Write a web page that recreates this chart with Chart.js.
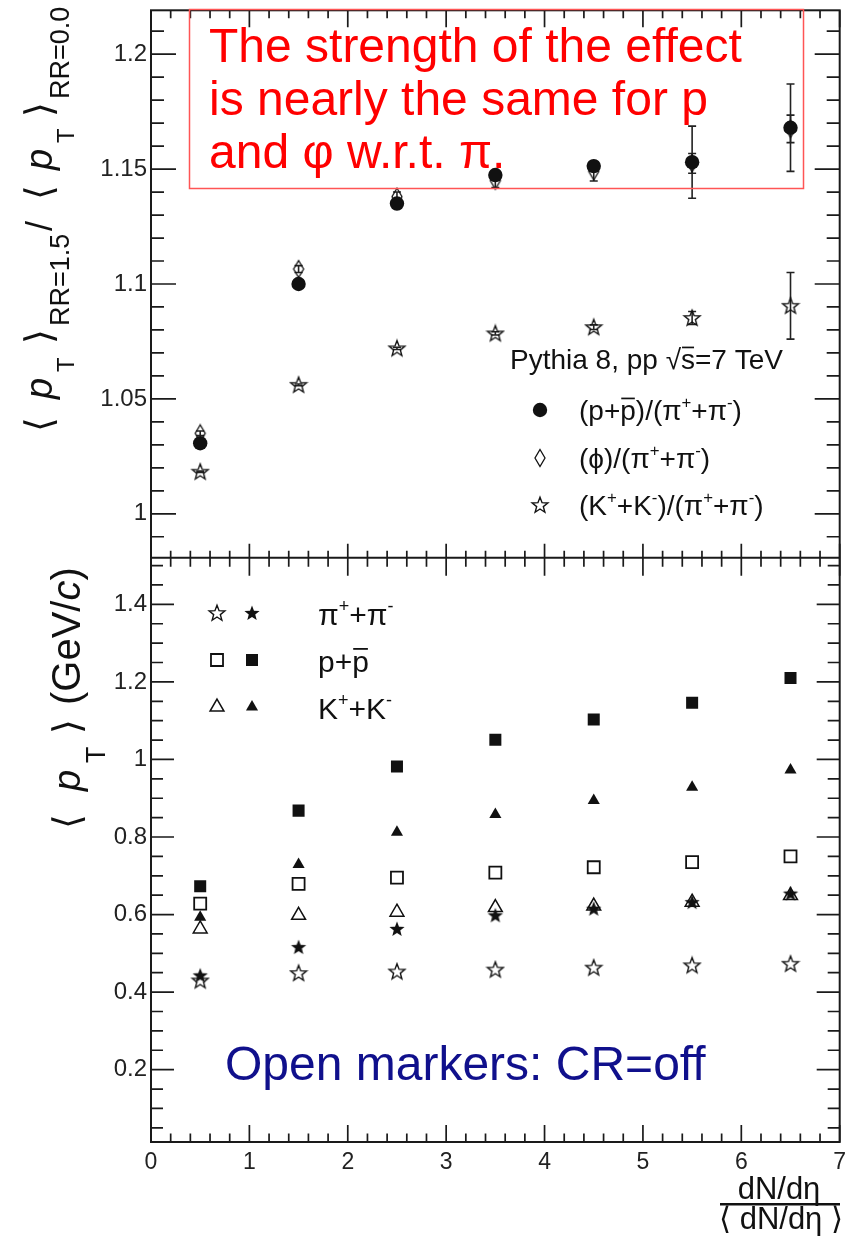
<!DOCTYPE html>
<html>
<head>
<meta charset="utf-8">
<script src="https://cdn.jsdelivr.net/npm/chart.js@4.4.1/dist/chart.umd.min.js"></script>
<style>
  html, body { margin: 0; padding: 0; background: #fff; }
</style>
</head>
<body>
<canvas id="grafico" width="850" height="1236"></canvas>
<script>
const FONT = '"Liberation Sans", Arial, "DejaVu Sans", sans-serif';

// bins in (dN/deta) / <dN/deta>
const bins = [0.5, 1.5, 2.5, 3.5, 4.5, 5.5, 6.5];

// top panel: <pT>(RR=1.5) / <pT>(RR=0.0)
const ratioProton    = [1.0307, 1.1000, 1.1350, 1.1474, 1.1513, 1.1530, 1.1680];
const ratioProtonErr = [0.0008, 0.0010, 0.0012, 0.0015, 0.0020, 0.0157, 0.0190];
const ratioPhi       = [1.0350, 1.1065, 1.1380, 1.1450, 1.1490, 1.1525, 1.1675];
const ratioPhiErr    = [0.0010, 0.0015, 0.0020, 0.0030, 0.0042, 0.0043, 0.0060];
const ratioKaon      = [1.0183, 1.0561, 1.0720, 1.0785, 1.0812, 1.0852, 1.0905];
const ratioKaonErr   = [0.0003, 0.0004, 0.0005, 0.0007, 0.0010, 0.0028, 0.0145];

// bottom panel: <pT> (GeV/c), CR on = filled, CR off = open
const pionOn    = [0.443, 0.516, 0.563, 0.598, 0.615, 0.632, 0.654];
const pionOff   = [0.430, 0.449, 0.453, 0.458, 0.463, 0.469, 0.473];
const protonOn  = [0.673, 0.868, 0.982, 1.051, 1.103, 1.146, 1.210];
const protonOnErr = [0, 0, 0, 0, 0, 0, 0.007];
const protonOff = [0.628, 0.679, 0.695, 0.708, 0.722, 0.735, 0.750];
const kaonOn    = [0.593, 0.729, 0.812, 0.858, 0.894, 0.928, 0.973];
const kaonOff   = [0.563, 0.598, 0.606, 0.618, 0.622, 0.632, 0.649];

// axis ranges
const xRange = [0, 7];
const ratioRange = [0.9809, 1.2191];
const meanPtRange = [0.0134, 1.5204];

const puntos = arr => bins.map((x, i) => ({ x: x, y: arr[i] }));

// ROOT-like markers
function markerCanvas(w, h, paint) {
    const c = document.createElement('canvas');
    c.width = w; c.height = h;
    paint(c.getContext('2d'), w / 2, h / 2);
    return c;
}
function starPath(g, cx, cy, ro, ri) {
    g.beginPath();
    for (let k = 0; k < 10; k++) {
        const r = k % 2 ? ri : ro;
        const a = -Math.PI / 2 + k * Math.PI / 5;
        g.lineTo(cx + r * Math.cos(a), cy + r * Math.sin(a));
    }
    g.closePath();
}
const openStar = markerCanvas(20, 20, (g, cx, cy) => {
    starPath(g, cx, cy + 0.5, 8.3, 3.5);
    g.lineWidth = 1.4; g.strokeStyle = '#111'; g.stroke();
});
const fullStar = markerCanvas(20, 20, (g, cx, cy) => {
    starPath(g, cx, cy + 0.5, 8, 3.4);
    g.fillStyle = '#111'; g.fill();
});
const openDiamond = markerCanvas(14, 20, (g, cx, cy) => {
    g.beginPath();
    g.moveTo(cx, 1.5); g.lineTo(cx + 5, cy); g.lineTo(cx, 18.5); g.lineTo(cx - 5, cy);
    g.closePath();
    g.lineWidth = 1.3; g.strokeStyle = '#111'; g.stroke();
});

const datasets = [
    { label: 'p ratio', yAxisID: 'yTop', data: puntos(ratioProton), errors: ratioProtonErr,
      pointStyle: 'circle', pointRadius: 7.2, backgroundColor: '#111', borderColor: '#111', borderWidth: 0 },
    { label: 'phi ratio', yAxisID: 'yTop', data: puntos(ratioPhi), errors: ratioPhiErr,
      pointStyle: openDiamond, pointRadius: 8, backgroundColor: '#111', borderColor: '#111', borderWidth: 0 },
    { label: 'K ratio', yAxisID: 'yTop', data: puntos(ratioKaon), errors: ratioKaonErr,
      pointStyle: openStar, pointRadius: 8, backgroundColor: '#111', borderColor: '#111', borderWidth: 0 },

    { label: 'p on', yAxisID: 'yBot', data: puntos(protonOn), errors: protonOnErr,
      pointStyle: 'rect', pointRadius: 8.5, backgroundColor: '#111', borderColor: '#111', borderWidth: 0 },
    { label: 'K on', yAxisID: 'yBot', data: puntos(kaonOn),
      pointStyle: 'triangle', pointRadius: 7, backgroundColor: '#111', borderColor: '#111', borderWidth: 0 },
    { label: 'pi on', yAxisID: 'yBot', data: puntos(pionOn),
      pointStyle: fullStar, pointRadius: 8, backgroundColor: '#111', borderColor: '#111', borderWidth: 0 },
    { label: 'p off', yAxisID: 'yBot', data: puntos(protonOff),
      pointStyle: 'rect', pointRadius: 8.5, backgroundColor: 'rgba(0,0,0,0)', borderColor: '#111', borderWidth: 1.8 },
    { label: 'K off', yAxisID: 'yBot', data: puntos(kaonOff),
      pointStyle: 'triangle', pointRadius: 8, backgroundColor: 'rgba(0,0,0,0)', borderColor: '#111', borderWidth: 1.5 },
    { label: 'pi off', yAxisID: 'yBot', data: puntos(pionOff),
      pointStyle: openStar, pointRadius: 8, backgroundColor: '#111', borderColor: '#111', borderWidth: 0 }
];

// vertical error bars, under the markers
const errorBars = {
    id: 'errorBars',
    beforeDatasetsDraw(chart) {
        const ctx = chart.ctx;
        const xs = chart.scales.x;
        chart.data.datasets.forEach(ds => {
            if (!ds.errors) return;
            const ys = chart.scales[ds.yAxisID];
            ctx.save();
            ctx.strokeStyle = '#222';
            ctx.lineWidth = 1.6;
            ds.data.forEach((p, j) => {
                const e = ds.errors[j];
                if (!e) return;
                const px = xs.getPixelForValue(p.x);
                const y1 = ys.getPixelForValue(p.y - e);
                const y2 = ys.getPixelForValue(p.y + e);
                ctx.beginPath();
                ctx.moveTo(px, y1); ctx.lineTo(px, y2);
                ctx.moveTo(px - 4, y1); ctx.lineTo(px + 4, y1);
                ctx.moveTo(px - 4, y2); ctx.lineTo(px + 4, y2);
                ctx.stroke();
            });
            ctx.restore();
        });
    }
};

// text with super/subscripts and overlines
function drawParts(ctx, parts, x0, y0, base) {
    let x = x0;
    parts.forEach(p => {
        const size = p.size || (p.sup ? base * 0.6 : base);
        ctx.font = (p.it ? 'italic ' : '') + size + 'px ' + FONT;
        const dy = p.sup ? -base * 0.42 : (p.dy || 0);
        const px = p.at !== undefined ? x0 + p.at : x;
        ctx.fillText(p.t, px, y0 + dy);
        const w = ctx.measureText(p.t).width;
        if (p.over) ctx.fillRect(px + 1, y0 - size * 0.8, w - 2, Math.max(1.5, size * 0.06));
        x = px + w;
    });
}

function legendMarker(ctx, ds, x, y) {
    ctx.save();
    if (typeof ds.pointStyle === 'object') {
        ctx.drawImage(ds.pointStyle, x - ds.pointStyle.width / 2, y - ds.pointStyle.height / 2);
    } else {
        ctx.fillStyle = ds.backgroundColor;
        ctx.strokeStyle = ds.borderColor;
        ctx.lineWidth = ds.borderWidth;
        Chart.helpers.drawPoint(ctx, { pointStyle: ds.pointStyle, radius: ds.pointRadius, rotation: 0, borderWidth: ds.borderWidth }, x, y);
    }
    ctx.restore();
}

// frame and inner ticks like ROOT
const rootFrame = {
    id: 'rootFrame',
    afterDraw(chart) {
        const ctx = chart.ctx;
        const xs = chart.scales.x, yT = chart.scales.yTop, yB = chart.scales.yBot;
        const { left, right } = chart.chartArea;
        ctx.save();
        ctx.strokeStyle = '#1a1a1a';
        ctx.lineWidth = 2;
        ctx.strokeRect(left, yT.top, right - left, yB.bottom - yT.top);
        ctx.beginPath(); ctx.moveTo(left, yT.bottom); ctx.lineTo(right, yT.bottom); ctx.stroke();

        ctx.lineWidth = 1.7;
        ctx.beginPath();
        for (let i = 0; i <= 35; i++) {
            const px = xs.getPixelForValue(i / 5);
            const major = i % 5 === 0;
            ctx.moveTo(px, yT.top); ctx.lineTo(px, yT.top + (major ? 17 : 8));
            ctx.moveTo(px, yT.bottom); ctx.lineTo(px, yT.bottom - (major ? 14 : 7));
            ctx.moveTo(px, yB.top); ctx.lineTo(px, yB.top + (major ? 18 : 9));
            ctx.moveTo(px, yB.bottom); ctx.lineTo(px, yB.bottom - (major ? 17 : 8.5));
        }
        for (let i = 99; i <= 121; i++) {
            const py = yT.getPixelForValue(i / 100);
            const len = i % 5 === 0 ? 25 : 13;
            ctx.moveTo(left, py); ctx.lineTo(left + len, py);
            ctx.moveTo(right, py); ctx.lineTo(right - len, py);
        }
        for (let i = 1; i <= 30; i++) {
            const py = yB.getPixelForValue(i / 20);
            const len = i % 4 === 0 ? 23 : 12;
            ctx.moveTo(left, py); ctx.lineTo(left + len, py);
            ctx.moveTo(right, py); ctx.lineTo(right - len, py);
        }
        ctx.stroke();
        ctx.restore();
    }
};

const notas = {
    id: 'notas',
    afterDraw(chart) {
        const ctx = chart.ctx;
        const ds = chart.data.datasets;
        ctx.save();
        ctx.textAlign = 'left';
        ctx.textBaseline = 'alphabetic';

        // red box
        ctx.strokeStyle = '#ff5555';
        ctx.lineWidth = 1.5;
        ctx.strokeRect(189.5, 9.5, 614, 179);
        ctx.fillStyle = '#ff0000';
        ctx.font = '48px ' + FONT;
        ctx.fillText('The strength of the effect', 209, 62);
        ctx.fillText('is nearly the same for p', 209, 115);
        ctx.fillText('and φ w.r.t. π.', 209, 168);

        // top legend
        ctx.fillStyle = '#111';
        drawParts(ctx, [{ t: 'Pythia 8, pp √' }, { t: 's', over: true }, { t: '=7 TeV' }], 510, 369, 28);
        const filasTop = [
            [ds[0], 410, [{ t: '(p+' }, { t: 'p', over: true }, { t: ')/(π' }, { t: '+', sup: true }, { t: '+π' }, { t: '-', sup: true }, { t: ')' }]],
            [ds[1], 458, [{ t: '(ϕ)/(π' }, { t: '+', sup: true }, { t: '+π' }, { t: '-', sup: true }, { t: ')' }]],
            [ds[2], 505, [{ t: '(K' }, { t: '+', sup: true }, { t: '+K' }, { t: '-', sup: true }, { t: ')/(π' }, { t: '+', sup: true }, { t: '+π' }, { t: '-', sup: true }, { t: ')' }]]
        ];
        filasTop.forEach(([d, y, parts]) => {
            legendMarker(ctx, d, 540, y);
            ctx.fillStyle = '#111';
            drawParts(ctx, parts, 579, y + 10, 28);
        });

        // bottom legend
        const filasBot = [
            [ds[8], ds[5], 613, [{ t: 'π' }, { t: '+', sup: true }, { t: '+π' }, { t: '-', sup: true }]],
            [ds[6], ds[3], 660, [{ t: 'p+' }, { t: 'p', over: true }]],
            [ds[7], ds[4], 707, [{ t: 'K' }, { t: '+', sup: true }, { t: '+K' }, { t: '-', sup: true }]]
        ];
        filasBot.forEach(([dOff, dOn, y, parts]) => {
            legendMarker(ctx, dOff, 217, y);
            legendMarker(ctx, dOn, 252, y);
            ctx.fillStyle = '#111';
            drawParts(ctx, parts, 318, y + 12, 30);
        });

        ctx.fillStyle = '#10108c';
        ctx.font = '48px ' + FONT;
        ctx.fillText('Open markers: CR=off', 225, 1080);

        // y titles
        ctx.fillStyle = '#111';
        ctx.save();
        ctx.translate(52, 432);
        ctx.rotate(-Math.PI / 2);
        drawParts(ctx, [
            { t: '⟨', at: 0, size: 38 }, { t: 'p', at: 33, it: true, size: 38 }, { t: 'T', at: 60, size: 24, dy: 22 },
            { t: '⟩', at: 88, size: 38 }, { t: 'RR=1.5', at: 106, size: 27, dy: 17 },
            { t: '/', at: 201, size: 36 },
            { t: '⟨', at: 232, size: 38 }, { t: 'p', at: 262, it: true, size: 38 }, { t: 'T', at: 289, size: 24, dy: 22 },
            { t: '⟩', at: 315, size: 38 }, { t: 'RR=0.0', at: 333, size: 27, dy: 17 }
        ], 0, 0, 38);
        ctx.restore();

        ctx.save();
        ctx.translate(80, 829);
        ctx.rotate(-Math.PI / 2);
        drawParts(ctx, [
            { t: '⟨', at: 0, size: 38 }, { t: 'p', at: 38, it: true, size: 38 }, { t: 'T', at: 66, size: 27, dy: 25 },
            { t: '⟩', at: 95, size: 38 }, { t: '(GeV/', at: 124, size: 40 }, { t: 'c', it: true, size: 40 }, { t: ')', size: 40 }
        ], 0, 0, 38);
        ctx.restore();

        // x title as a fraction
        ctx.textAlign = 'center';
        ctx.font = '31px ' + FONT;
        ctx.fillText('dN/dη', 779, 1199);
        ctx.fillRect(720, 1203, 120, 2.5);
        ctx.fillText('⟨ dN/dη ⟩', 781, 1229);
        ctx.restore();
    }
};

const fmt = v => String(+v.toFixed(2));
const sinMargen = s => { s.paddingTop = 0; s.paddingBottom = 0; s.paddingLeft = 0; s.paddingRight = 0; };

new Chart(document.getElementById('grafico'), {
    type: 'scatter',
    data: { datasets: datasets },
    options: {
        responsive: false,
        animation: false,
        devicePixelRatio: 1,
        layout: { padding: { top: 9, right: 10, bottom: 0, left: 0 } },
        plugins: { legend: { display: false }, tooltip: { enabled: false } },
        scales: {
            x: {
                type: 'linear', position: 'bottom', min: xRange[0], max: xRange[1],
                grid: { display: false, drawTicks: false }, border: { display: false },
                ticks: { stepSize: 1, padding: 7, color: '#222', maxRotation: 0, font: { family: FONT, size: 23 } },
                afterFit: s => { s.height = 94; sinMargen(s); }
            },
            yTop: {
                axis: 'y', type: 'linear', position: 'left', stack: 'panels', stackWeight: 548, weight: 2,
                min: ratioRange[0], max: ratioRange[1],
                grid: { display: false, drawTicks: false }, border: { display: false },
                ticks: { stepSize: 0.05, includeBounds: false, padding: 4, color: '#222', callback: fmt, font: { family: FONT, size: 24 } },
                afterFit: s => { s.width = 151; sinMargen(s); }
            },
            yBot: {
                axis: 'y', type: 'linear', position: 'left', stack: 'panels', stackWeight: 585, weight: 1,
                min: meanPtRange[0], max: meanPtRange[1],
                grid: { display: false, drawTicks: false }, border: { display: false },
                ticks: { stepSize: 0.2, includeBounds: false, padding: 4, color: '#222', callback: fmt, font: { family: FONT, size: 24 } },
                afterFit: s => { s.width = 151; sinMargen(s); }
            }
        }
    },
    plugins: [errorBars, rootFrame, notas]
});
</script>
</body>
</html>
